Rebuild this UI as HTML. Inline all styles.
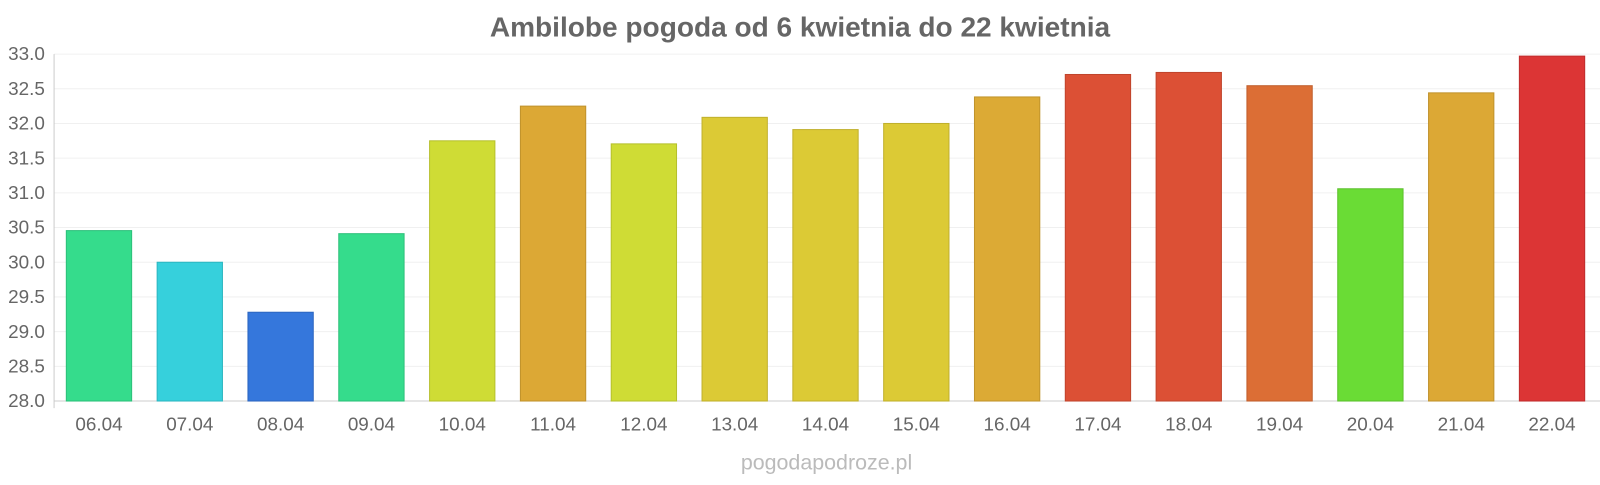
<!DOCTYPE html>
<html><head><meta charset="utf-8"><style>
body{margin:0;background:#fff;}
svg text{font-family:"Liberation Sans",sans-serif;}
</style></head><body>
<svg width="1600" height="480" viewBox="0 0 1600 480" xmlns="http://www.w3.org/2000/svg">
<g transform="scale(1.0204)">
<text x="784" y="36" text-anchor="middle" font-size="27.5" font-weight="bold" fill="#666">Ambilobe pogoda od 6 kwietnia do 22 kwietnia</text>
<g stroke="#f0f0f0" stroke-width="1">
<line x1="53" x2="1568" y1="53" y2="53"/><line x1="53" x2="1568" y1="87" y2="87"/>
<line x1="53" x2="1568" y1="121" y2="121"/><line x1="53" x2="1568" y1="155" y2="155"/>
<line x1="53" x2="1568" y1="189" y2="189"/><line x1="53" x2="1568" y1="223" y2="223"/>
<line x1="53" x2="1568" y1="257" y2="257"/><line x1="53" x2="1568" y1="291" y2="291"/>
<line x1="53" x2="1568" y1="325" y2="325"/><line x1="53" x2="1568" y1="359" y2="359"/>
</g>
<line x1="53" x2="53" y1="53" y2="400" stroke="#ccc"/>
<line x1="53" x2="1568" y1="393" y2="393" stroke="#ccc"/>
<g font-size="18.5" fill="#666" text-anchor="end">
<text x="44" y="59">33.0</text><text x="44" y="93">32.5</text><text x="44" y="127">32.0</text>
<text x="44" y="161">31.5</text><text x="44" y="195">31.0</text><text x="44" y="229">30.5</text>
<text x="44" y="263">30.0</text><text x="44" y="297">29.5</text><text x="44" y="331">29.0</text>
<text x="44" y="365">28.5</text><text x="44" y="399">28.0</text>
</g>
<g stroke-width="1">
<rect x="65" y="226" width="64" height="167" fill="#35dc8c" stroke="#2cc07a"/>
<rect x="154" y="257" width="64" height="136" fill="#36d0dc" stroke="#2cb6c0"/>
<rect x="243" y="306" width="64" height="87" fill="#3577dc" stroke="#2c66c0"/>
<rect x="332" y="229" width="64" height="164" fill="#35dc8c" stroke="#2cc07a"/>
<rect x="421" y="138" width="64" height="255" fill="#cfdc35" stroke="#b6c02c"/>
<rect x="510" y="104" width="64" height="289" fill="#dca835" stroke="#c0922c"/>
<rect x="599" y="141" width="64" height="252" fill="#cfdc35" stroke="#b6c02c"/>
<rect x="688" y="115" width="64" height="278" fill="#dcca35" stroke="#c0b02c"/>
<rect x="777" y="127" width="64" height="266" fill="#dcca35" stroke="#c0b02c"/>
<rect x="866" y="121" width="64" height="272" fill="#dcca35" stroke="#c0b02c"/>
<rect x="955" y="95" width="64" height="298" fill="#dcaa35" stroke="#c0942c"/>
<rect x="1044" y="73" width="64" height="320" fill="#dc5035" stroke="#c0442c"/>
<rect x="1133" y="71" width="64" height="322" fill="#dc5035" stroke="#c0442c"/>
<rect x="1222" y="84" width="64" height="309" fill="#dc6e35" stroke="#c05e2c"/>
<rect x="1311" y="185" width="64" height="208" fill="#6adc35" stroke="#5cc02c"/>
<rect x="1400" y="91" width="64" height="302" fill="#dca835" stroke="#c0922c"/>
<rect x="1489" y="55" width="64" height="338" fill="#dc3535" stroke="#c02c2c"/>
</g>
<g font-size="18.5" fill="#666" text-anchor="middle">
<text x="97" y="422">06.04</text><text x="186" y="422">07.04</text><text x="275" y="422">08.04</text>
<text x="364" y="422">09.04</text><text x="453" y="422">10.04</text><text x="542" y="422">11.04</text>
<text x="631" y="422">12.04</text><text x="720" y="422">13.04</text><text x="809" y="422">14.04</text>
<text x="898" y="422">15.04</text><text x="987" y="422">16.04</text><text x="1076" y="422">17.04</text>
<text x="1165" y="422">18.04</text><text x="1254" y="422">19.04</text><text x="1343" y="422">20.04</text>
<text x="1432" y="422">21.04</text><text x="1521" y="422">22.04</text>
</g>
<text x="810" y="460" text-anchor="middle" font-size="21" fill="#bbb">pogodapodroze.pl</text>
</g>
</svg>
</body></html>
